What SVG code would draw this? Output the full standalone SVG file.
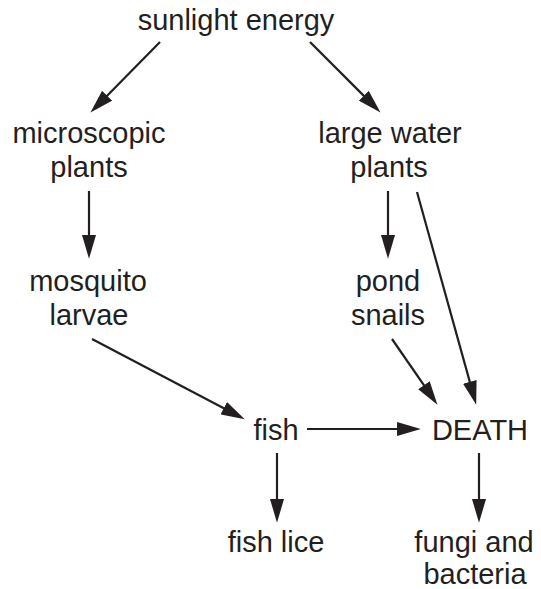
<svg xmlns="http://www.w3.org/2000/svg" width="541" height="589" viewBox="0 0 541 589">
<defs>
<style>
text{font-family:"Liberation Sans",Arial,Helvetica,sans-serif;font-size:29px;fill:#231f20;text-anchor:middle}
.c line{stroke:#231f20;stroke-width:2.2;marker-end:url(#ah)}
</style>
<marker id="ah" markerUnits="userSpaceOnUse" markerWidth="24" markerHeight="14" viewBox="0 0 22 13" refX="12" refY="6.5" orient="auto">
<path d="M0,0 L22,6.5 L0,13 z" fill="#231f20"/>
</marker>
</defs>
<rect width="541" height="589" fill="#fff"/>
<g id="sunlight"><text x="236" y="30">sunlight energy</text></g>
<g id="microscopic"><text x="89" y="143">microscopic</text><text x="89" y="177">plants</text></g>
<g id="largewater"><text x="390" y="143">large water</text><text x="389" y="177">plants</text></g>
<g id="mosquito"><text x="88" y="291">mosquito</text><text x="89" y="325">larvae</text></g>
<g id="pond"><text x="388" y="291">pond</text><text x="388" y="325">snails</text></g>
<g id="fish"><text x="276" y="440">fish</text></g>
<g id="death"><text x="480" y="440">DEATH</text></g>
<g id="fishlice"><text x="276" y="552">fish lice</text></g>
<g id="fungi"><text x="474" y="552">fungi and</text><text x="475" y="584">bacteria</text></g>
<g class="c" id="connectors">
<line x1="160" y1="42" x2="98" y2="104.9"/>
<line x1="310" y1="42" x2="372.9" y2="104.9"/>
<line x1="89" y1="191" x2="89" y2="248"/>
<line x1="388" y1="191" x2="388" y2="248"/>
<line x1="417" y1="192" x2="473.3" y2="394.4"/>
<line x1="392" y1="339" x2="431.3" y2="395.8"/>
<line x1="92" y1="339" x2="235.2" y2="414.3"/>
<line x1="307" y1="429" x2="410" y2="429"/>
<line x1="277" y1="453" x2="277" y2="512"/>
<line x1="479" y1="453" x2="479" y2="512"/>
</g>
</svg>
